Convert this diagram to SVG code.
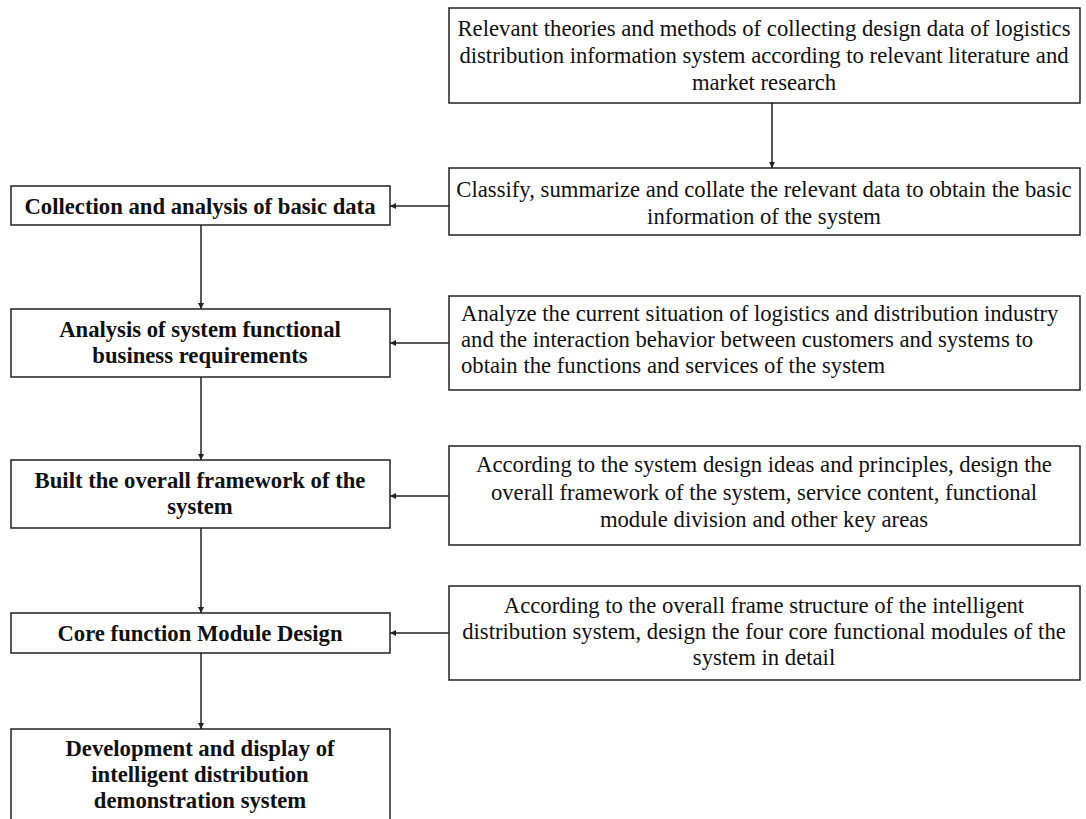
<svg xmlns="http://www.w3.org/2000/svg" width="1086" height="819" viewBox="0 0 1086 819">
  <style>
    .box { fill: #ffffff; stroke: #222222; stroke-width: 1.5; }
    .step { font-family: "Liberation Serif", "Times New Roman", serif; font-size: 22.7px; font-weight: bold; fill: #111111; text-anchor: middle; }
    .note { font-family: "Liberation Serif", "Times New Roman", serif; font-size: 22.7px; fill: #111111; }
    .mid { text-anchor: middle; }
    .link { fill: none; stroke: #222222; stroke-width: 1.5; marker-end: url(#arrow); }
  </style>
  <defs>
    <marker id="arrow" viewBox="0 0 8 8" refX="8" refY="4" markerWidth="7" markerHeight="6" orient="auto" markerUnits="userSpaceOnUse">
      <path d="M0,0 L8,4 L0,8 z" fill="#222222"/>
    </marker>
  </defs>
  <rect width="1086" height="819" fill="#ffffff"/>

  <!-- connectors -->
  <g id="connectors">
    <line class="link" x1="772" y1="103" x2="772" y2="168"/>
    <line class="link" x1="449" y1="206" x2="390" y2="206"/>
    <line class="link" x1="201" y1="225" x2="201" y2="309"/>
    <line class="link" x1="449" y1="343" x2="390" y2="343"/>
    <line class="link" x1="201" y1="377" x2="201" y2="460"/>
    <line class="link" x1="449" y1="496" x2="390" y2="496"/>
    <line class="link" x1="201" y1="528" x2="201" y2="613"/>
    <line class="link" x1="449" y1="633" x2="390" y2="633"/>
    <line class="link" x1="201" y1="653" x2="201" y2="729"/>
  </g>

  <!-- research sources -->
  <g id="node-research">
    <rect class="box" x="449" y="8" width="631" height="95"/>
    <text class="note mid" x="764" y="36">Relevant theories and methods of collecting design data of logistics</text>
    <text class="note mid" x="764" y="63">distribution information system according to relevant literature and</text>
    <text class="note mid" x="764" y="90">market research</text>
  </g>

  <g id="node-classify">
    <rect class="box" x="449" y="168" width="631" height="67"/>
    <text class="note mid" x="764" y="197">Classify, summarize and collate the relevant data to obtain the basic</text>
    <text class="note mid" x="764" y="224">information of the system</text>
  </g>

  <g id="node-analyze">
    <rect class="box" x="449" y="296" width="631" height="94"/>
    <text class="note" x="461" y="321">Analyze the current situation of logistics and distribution industry</text>
    <text class="note" x="461" y="347">and the interaction behavior between customers and systems to</text>
    <text class="note" x="461" y="373">obtain the functions and services of the system</text>
  </g>

  <g id="node-principles">
    <rect class="box" x="449" y="446" width="631" height="99"/>
    <text class="note mid" x="764" y="472">According to the system design ideas and principles, design the</text>
    <text class="note mid" x="764" y="500">overall framework of the system, service content, functional</text>
    <text class="note mid" x="764" y="527">module division and other key areas</text>
  </g>

  <g id="node-structure">
    <rect class="box" x="449" y="586" width="631" height="94"/>
    <text class="note mid" x="764" y="613">According to the overall frame structure of the intelligent</text>
    <text class="note mid" x="764" y="639">distribution system, design the four core functional modules of the</text>
    <text class="note mid" x="764" y="665">system in detail</text>
  </g>

  <!-- main process steps -->
  <g id="step-basic-data">
    <rect class="box" x="11" y="186" width="379" height="39"/>
    <text class="step" x="200" y="214">Collection and analysis of basic data</text>
  </g>

  <g id="step-requirements">
    <rect class="box" x="11" y="309" width="379" height="68"/>
    <text class="step" x="200" y="337">Analysis of system functional</text>
    <text class="step" x="200" y="363">business requirements</text>
  </g>

  <g id="step-framework">
    <rect class="box" x="11" y="460" width="379" height="68"/>
    <text class="step" x="200" y="488">Built the overall framework of the</text>
    <text class="step" x="200" y="514">system</text>
  </g>

  <g id="step-modules">
    <rect class="box" x="11" y="613" width="379" height="40"/>
    <text class="step" x="200" y="641">Core function Module Design</text>
  </g>

  <g id="step-demo">
    <rect class="box" x="11" y="729" width="379" height="100"/>
    <text class="step" x="200" y="756">Development and display of</text>
    <text class="step" x="200" y="782">intelligent distribution</text>
    <text class="step" x="200" y="808">demonstration system</text>
  </g>
</svg>
